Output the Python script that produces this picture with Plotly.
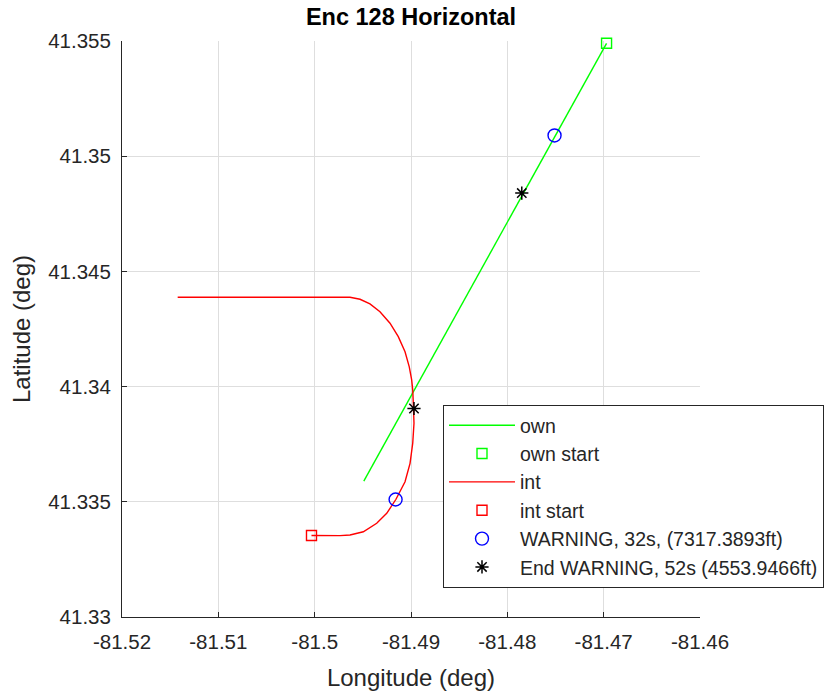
import plotly.graph_objects as go

# ---- data ----
own_lon = [-81.4949, -81.4697]
own_lat = [41.3359, 41.3549]
own_start_lon = [-81.4697]
own_start_lat = [41.3549]

int_lon = [-81.50033, -81.49737, -81.49633, -81.49495, -81.49356, -81.49252,
           -81.49156, -81.49062, -81.49010, -81.48982, -81.48969, -81.48969,
           -81.48976, -81.48982, -81.48993, -81.49018, -81.49062, -81.49132,
           -81.49218, -81.49322, -81.49426, -81.49529, -81.49633, -81.49737,
           -81.51422]
int_lat = [41.33354, 41.33353, 41.33356, 41.33370, 41.33407, 41.33450,
           41.33511, 41.33587, 41.33667, 41.33754, 41.33841, 41.33898,
           41.33928, 41.33985, 41.34029, 41.34086, 41.34151, 41.34217,
           41.34275, 41.34325, 41.34359, 41.34379, 41.34388, 41.34388,
           41.34388]
int_start_lon = [-81.50033]
int_start_lat = [41.33354]

warn_lon = [-81.4751, -81.4916]
warn_lat = [41.3509, 41.3351]
endwarn_lon = [-81.4785, -81.48969]
endwarn_lat = [41.3484, 41.33905]

x_tick_vals = [-81.52, -81.51, -81.50, -81.49, -81.48, -81.47, -81.46]
x_tick_text = ["-81.52", "-81.51", "-81.5", "-81.49", "-81.48", "-81.47", "-81.46"]
y_tick_vals = [41.33, 41.335, 41.34, 41.345, 41.35, 41.355]
y_tick_text = ["41.33", "41.335", "41.34", "41.345", "41.35", "41.355"]

FONT = "Liberation Sans, Arial, sans-serif"

fig = go.Figure()
fig.add_trace(go.Scatter(x=own_lon, y=own_lat, mode="lines", name="own",
                         line=dict(color="#00ff00", width=1.4)))
fig.add_trace(go.Scatter(x=own_start_lon, y=own_start_lat, mode="markers", name="own start",
                         cliponaxis=False,
                         marker=dict(symbol="square-open", color="#00ff00", size=10,
                                     line=dict(width=1.4))))
fig.add_trace(go.Scatter(x=int_lon, y=int_lat, mode="lines", name="int",
                         line=dict(color="#ff0000", width=1.4)))
fig.add_trace(go.Scatter(x=int_start_lon, y=int_start_lat, mode="markers", name="int start",
                         cliponaxis=False,
                         marker=dict(symbol="square-open", color="#ff0000", size=10,
                                     line=dict(width=1.4))))
fig.add_trace(go.Scatter(x=warn_lon, y=warn_lat, mode="markers",
                         name="WARNING, 32s, (7317.3893ft)",
                         marker=dict(symbol="circle-open", color="#0000ff", size=13,
                                     line=dict(width=1.4))))
fig.add_trace(go.Scatter(x=endwarn_lon, y=endwarn_lat, mode="markers",
                         name="End WARNING, 52s (4553.9466ft)",
                         marker=dict(symbol="asterisk-open", color="#000000", size=11,
                                     line=dict(width=1.5, color="#000000"))))

axis_common = dict(showgrid=True, gridcolor="#dedede", gridwidth=1,
                   zeroline=False, showline=True, linecolor="#262626", linewidth=1,
                   ticks="inside", ticklen=5, tickcolor="#262626",
                   tickfont=dict(family=FONT, size=20.5, color="#262626"),
                   mirror=False)

fig.update_layout(
    width=834, height=693,
    margin=dict(l=122, r=134, t=41, b=76, autoexpand=False),
    paper_bgcolor="white", plot_bgcolor="white",
    title=dict(text="<b>Enc 128 Horizontal</b>", x=(122 + 700) / 2 / 834, xanchor="center",
               y=1 - 17 / 693, yanchor="middle",
               font=dict(family=FONT, size=23.5, color="black")),
    xaxis=dict(range=[-81.52, -81.46], tickvals=x_tick_vals, ticktext=x_tick_text,
               ticklabelstandoff=6,
               title=dict(text="Longitude (deg)", standoff=17,
                          font=dict(family=FONT, size=24, color="#262626")),
               **axis_common),
    yaxis=dict(range=[41.33, 41.355], tickvals=y_tick_vals, ticktext=y_tick_text,
               ticklabelstandoff=6,
               title=dict(text="Latitude (deg)", standoff=10,
                          font=dict(family=FONT, size=24, color="#262626")),
               **axis_common),
    legend=dict(x=(443 - 122) / 578, y=(617 - 405) / 576, xanchor="left", yanchor="top",
                bordercolor="#262626", borderwidth=1, bgcolor="white",
                font=dict(family=FONT, size=19.5, color="#262626"),
                itemwidth=66, tracegroupgap=0),
    showlegend=True,
)

fig.write_html("out.html")
